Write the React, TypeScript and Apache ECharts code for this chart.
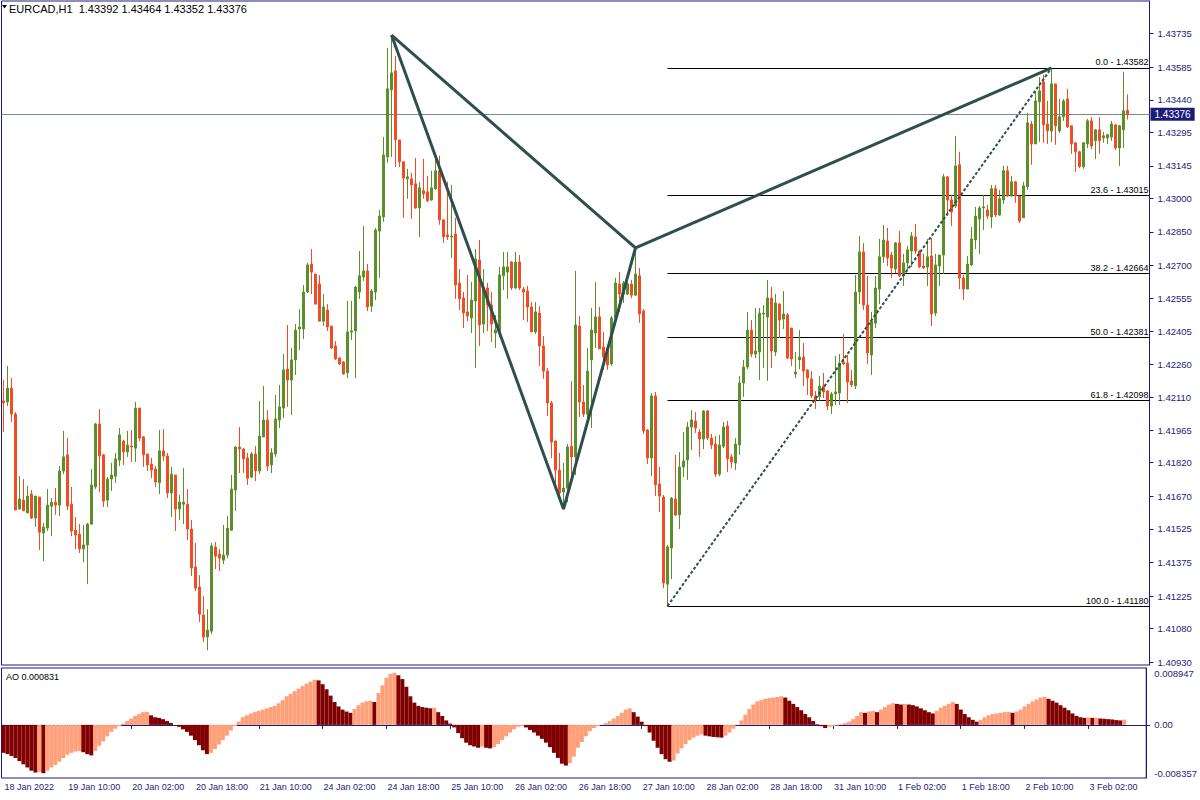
import React, { useEffect, useRef } from "react";
import * as echarts from "echarts";

// ---------------- DATA ----------------
const symbolName = "EURCAD,H1";
const timeLabels = [
  "18 Jan 2022", "19 Jan 10:00", "20 Jan 02:00", "20 Jan 18:00", "21 Jan 10:00",
  "24 Jan 02:00", "24 Jan 18:00", "25 Jan 10:00", "26 Jan 02:00", "26 Jan 18:00",
  "27 Jan 10:00", "28 Jan 02:00", "28 Jan 18:00", "31 Jan 10:00", "1 Feb 02:00",
  "1 Feb 18:00", "2 Feb 10:00", "3 Feb 02:00",
];
const barsPerLabel = 16;
const emptyBarsRight = 5;

const priceTickLabels = [
  "1.43735", "1.43585", "1.43440", "1.43295", "1.43145", "1.43000", "1.42850",
  "1.42700", "1.42555", "1.42405", "1.42260", "1.42110", "1.41965", "1.41820",
  "1.41670", "1.41525", "1.41375", "1.41225", "1.41080", "1.40930",
];

const opens = [
  1.42096,1.42091,1.42153,1.42037,1.41613,1.41653,1.41596,1.41680,1.41573,1.41667,
  1.41506,1.41528,1.41626,1.41644,1.41631,1.41783,1.41855,1.41635,1.41519,1.41501,
  1.41435,1.41453,1.41546,1.41712,1.41993,1.41855,1.41653,1.41747,1.41760,1.41832,
  1.41917,1.41868,1.41894,1.41885,1.42064,1.41935,1.41859,1.41814,1.41792,1.41730,
  1.41873,1.41850,1.41685,1.41765,1.41613,1.41635,1.41635,1.41524,1.41355,1.41265,
  1.41140,1.41042,1.41068,1.41444,1.41412,1.41385,1.41408,1.41519,1.41698,1.41890,
  1.41881,1.41841,1.41756,1.41859,1.41783,1.41935,1.42011,1.41810,1.41859,1.42011,
  1.42064,1.42238,1.42189,1.42279,1.42417,1.42417,1.42582,1.42707,1.42662,1.42618,
  1.42452,1.42502,1.42430,1.42341,1.42287,1.42270,1.42221,1.42403,1.42408,1.42582,
  1.42649,1.42676,1.42519,1.42582,1.42854,1.42917,1.43185,1.43484,1.43569,1.43261,
  1.43163,1.43087,1.43087,1.43065,1.42957,1.43034,1.43029,1.42993,1.43043,1.43123,
  1.42904,1.42837,1.42828,1.42841,1.42622,1.42555,1.42493,1.42466,1.42542,1.42725,
  1.42439,1.42600,1.42524,1.42399,1.42408,1.42654,1.42671,1.42716,1.42600,1.42716,
  1.42595,1.42586,1.42515,1.42404,1.42488,1.42341,1.42229,1.42087,1.41917,1.41787,
  1.41689,1.41707,1.41894,1.41846,1.42430,1.42091,1.42037,1.42279,1.42399,1.42471,
  1.42337,1.42332,1.42261,1.42466,1.42618,1.42573,1.42573,1.42618,1.42568,1.42654,
  1.42497,1.41966,1.41841,1.42118,1.41725,1.41667,1.41278,1.41439,1.41658,1.41587,
  1.41801,1.41832,1.41979,1.42006,1.41957,1.41926,1.42051,1.41930,1.41903,1.41769,
  1.41894,1.41984,1.41846,1.41819,1.41899,1.42176,1.42247,1.42412,1.42305,1.42314,
  1.42484,1.42470,1.42555,1.42314,1.42528,1.42461,1.42480,1.42421,1.42216,1.42279,
  1.42292,1.42234,1.42194,1.42118,1.42114,1.42162,1.42140,1.42073,1.42127,1.42131,
  1.42270,1.42265,1.42185,1.42163,1.42582,1.42761,1.42524,1.42301,1.42443,1.42595,
  1.42739,1.42810,1.42747,1.42685,1.42801,1.42654,1.42712,1.42765,1.42828,1.42765,
  1.42698,1.42694,1.42743,1.42488,1.42698,1.42747,1.43096,1.42993,1.42966,1.43150,
  1.42645,1.42595,1.42703,1.42814,1.42908,1.42957,1.42948,1.42917,1.43043,1.42926,
  1.42993,1.43123,1.43011,1.43074,1.43011,1.42913,1.43052,1.43332,1.43243,1.43431,
  1.43520,1.43332,1.43301,1.43511,1.43301,1.43364,1.43444,1.43324,1.43248,1.43208,
  1.43141,1.43243,1.43346,1.43257,1.43306,1.43270,1.43270,1.43274,1.43328,1.43225,
  1.43306,1.43392,
];
const highs = [
  1.42189,1.42252,1.42198,1.42046,1.41760,1.41747,1.41716,1.41698,1.41671,1.41667,
  1.41551,1.41703,1.41662,1.41707,1.41805,1.41962,1.41930,1.41712,1.41578,1.41546,
  1.41542,1.41551,1.41792,1.41998,1.42060,1.41859,1.41756,1.41819,1.41864,1.41975,
  1.41921,1.41962,1.41966,1.42091,1.42064,1.41939,1.41859,1.41841,1.41805,1.41966,
  1.41970,1.41864,1.41801,1.41765,1.41676,1.41796,1.41703,1.41564,1.41462,1.41318,
  1.41224,1.41166,1.41462,1.41466,1.41435,1.41542,1.41582,1.41765,1.41894,1.41979,
  1.41885,1.41864,1.41868,1.41894,1.42096,1.42162,1.42055,1.41885,1.42123,1.42167,
  1.42305,1.42435,1.42332,1.42439,1.42506,1.42613,1.42712,1.42774,1.42662,1.42658,
  1.42573,1.42528,1.42430,1.42363,1.42292,1.42274,1.42542,1.42542,1.42609,1.42765,
  1.42877,1.42707,1.42595,1.42868,1.42948,1.43274,1.43672,1.43729,1.43636,1.43261,
  1.43163,1.43132,1.43114,1.43181,1.43074,1.43176,1.43100,1.43123,1.43190,1.43190,
  1.42904,1.43074,1.43060,1.42913,1.42685,1.42582,1.42658,1.42627,1.42774,1.42814,
  1.42685,1.42622,1.42582,1.42479,1.42694,1.42761,1.42761,1.42721,1.42761,1.42747,
  1.42604,1.42609,1.42537,1.42537,1.42519,1.42385,1.42243,1.42096,1.41917,1.41864,
  1.41819,1.41903,1.42185,1.42676,1.42475,1.42167,1.42332,1.42511,1.42627,1.42515,
  1.42404,1.42346,1.42475,1.42645,1.42671,1.42631,1.42627,1.42636,1.42779,1.42689,
  1.42506,1.41970,1.42131,1.42136,1.41801,1.41676,1.41453,1.41667,1.41855,1.41868,
  1.41957,1.42002,1.42055,1.42046,1.41970,1.42055,1.42055,1.41948,1.41939,1.41944,
  1.42002,1.42006,1.41859,1.41930,1.42207,1.42279,1.42493,1.42457,1.42510,1.42510,
  1.42524,1.42636,1.42604,1.42573,1.42533,1.42586,1.42488,1.42421,1.42314,1.42412,
  1.42354,1.42238,1.42229,1.42140,1.42207,1.42221,1.42145,1.42136,1.42296,1.42305,
  1.42395,1.42301,1.42234,1.42658,1.42832,1.42801,1.42654,1.42493,1.42654,1.42819,
  1.42881,1.42868,1.42761,1.42805,1.42854,1.42752,1.42788,1.42850,1.42886,1.42770,
  1.42752,1.42819,1.42823,1.42752,1.42747,1.43109,1.43100,1.43016,1.43279,1.43208,
  1.42658,1.42743,1.42872,1.42962,1.42966,1.43016,1.42971,1.43060,1.43060,1.43038,
  1.43145,1.43145,1.43100,1.43078,1.43011,1.43074,1.43382,1.43346,1.43480,1.43542,
  1.43551,1.43435,1.43582,1.43511,1.43444,1.43444,1.43489,1.43324,1.43252,1.43212,
  1.43252,1.43355,1.43364,1.43306,1.43364,1.43297,1.43288,1.43346,1.43332,1.43328,
  1.43565,1.43464,
];
const lows = [
  1.41957,1.42073,1.42002,1.41609,1.41613,1.41605,1.41596,1.41569,1.41533,1.41430,
  1.41381,1.41515,1.41492,1.41587,1.41582,1.41769,1.41609,1.41492,1.41435,1.41417,
  1.41376,1.41278,1.41542,1.41703,1.41689,1.41622,1.41622,1.41694,1.41730,1.41805,
  1.41810,1.41846,1.41823,1.41823,1.41917,1.41801,1.41783,1.41751,1.41712,1.41680,
  1.41828,1.41662,1.41578,1.41515,1.41564,1.41546,1.41475,1.41314,1.41247,1.41108,
  1.41019,1.40983,1.41055,1.41345,1.41336,1.41367,1.41394,1.41515,1.41605,1.41774,
  1.41774,1.41721,1.41751,1.41738,1.41769,1.41935,1.41783,1.41774,1.41846,1.41975,
  1.42020,1.42069,1.42033,1.42212,1.42323,1.42372,1.42577,1.42573,1.42528,1.42452,
  1.42430,1.42408,1.42328,1.42279,1.42256,1.42212,1.42198,1.42368,1.42198,1.42551,
  1.42631,1.42497,1.42493,1.42546,1.42645,1.42895,1.43159,1.43185,1.43140,1.43140,
  1.42913,1.42998,1.42908,1.42953,1.42828,1.42998,1.42984,1.42989,1.43038,1.42882,
  1.42801,1.42814,1.42734,1.42551,1.42502,1.42421,1.42452,1.42399,1.42243,1.42341,
  1.42399,1.42408,1.42359,1.42332,1.42381,1.42591,1.42551,1.42591,1.42595,1.42591,
  1.42457,1.42448,1.42404,1.42395,1.42252,1.42194,1.42029,1.41841,1.41712,1.41676,
  1.41613,1.41644,1.41756,1.41765,1.42024,1.42024,1.41998,1.41975,1.42332,1.42328,
  1.42234,1.42234,1.42252,1.42457,1.42493,1.42533,1.42568,1.42555,1.42564,1.42444,
  1.41948,1.41814,1.41760,1.41671,1.41600,1.41260,1.41180,1.41300,1.41582,1.41524,
  1.41756,1.41743,1.41877,1.41953,1.41846,1.41881,1.41921,1.41881,1.41756,1.41760,
  1.41885,1.41778,1.41796,1.41787,1.41855,1.42114,1.42238,1.42292,1.42287,1.42189,
  1.42243,1.42185,1.42243,1.42296,1.42377,1.42417,1.42283,1.42252,1.42198,1.42238,
  1.42162,1.42123,1.42109,1.42060,1.42096,1.42109,1.42055,1.42037,1.42078,1.42078,
  1.42256,1.42087,1.42158,1.42149,1.42528,1.42502,1.42261,1.42212,1.42421,1.42528,
  1.42712,1.42698,1.42645,1.42667,1.42649,1.42609,1.42680,1.42694,1.42752,1.42689,
  1.42685,1.42609,1.42430,1.42475,1.42609,1.42662,1.42922,1.42877,1.42957,1.42595,
  1.42546,1.42595,1.42698,1.42774,1.42752,1.42859,1.42908,1.42868,1.42917,1.42922,
  1.42975,1.43007,1.43007,1.42980,1.42890,1.42913,1.43038,1.43150,1.43243,1.43252,
  1.43248,1.43243,1.43252,1.43239,1.43292,1.43346,1.43315,1.43199,1.43118,1.43136,
  1.43132,1.43225,1.43221,1.43176,1.43199,1.43248,1.43243,1.43257,1.43216,1.43145,
  1.43225,1.43352,
];
const closes = [
  1.42087,1.42153,1.42037,1.41609,1.41658,1.41605,1.41671,1.41573,1.41671,1.41510,
  1.41533,1.41631,1.41644,1.41631,1.41783,1.41846,1.41626,1.41515,1.41497,1.41435,
  1.41453,1.41546,1.41721,1.41993,1.41850,1.41649,1.41747,1.41765,1.41837,1.41944,
  1.41868,1.41899,1.41890,1.42064,1.41930,1.41855,1.41810,1.41787,1.41734,1.41873,
  1.41850,1.41685,1.41769,1.41613,1.41644,1.41644,1.41524,1.41350,1.41260,1.41144,
  1.41042,1.41073,1.41448,1.41403,1.41394,1.41408,1.41528,1.41703,1.41890,1.41881,
  1.41837,1.41751,1.41859,1.41783,1.41939,1.42011,1.41805,1.41864,1.42015,1.42069,
  1.42234,1.42189,1.42279,1.42412,1.42426,1.42582,1.42703,1.42671,1.42528,1.42452,
  1.42515,1.42426,1.42332,1.42283,1.42261,1.42216,1.42403,1.42408,1.42604,1.42654,
  1.42676,1.42515,1.42586,1.42859,1.42921,1.43194,1.43489,1.43560,1.43261,1.43163,
  1.43091,1.43096,1.43060,1.42957,1.43047,1.43020,1.42989,1.43047,1.43123,1.42904,
  1.42828,1.42828,1.42832,1.42613,1.42551,1.42488,1.42475,1.42546,1.42729,1.42435,
  1.42604,1.42524,1.42439,1.42412,1.42658,1.42694,1.42694,1.42600,1.42716,1.42600,
  1.42582,1.42515,1.42404,1.42493,1.42341,1.42229,1.42087,1.41912,1.41787,1.41685,
  1.41707,1.41890,1.41846,1.42435,1.42091,1.42037,1.42229,1.42412,1.42471,1.42328,
  1.42292,1.42256,1.42466,1.42622,1.42573,1.42622,1.42618,1.42568,1.42662,1.42484,
  1.41962,1.41841,1.42118,1.41721,1.41671,1.41283,1.41444,1.41662,1.41587,1.41801,
  1.41828,1.41979,1.42011,1.41975,1.41926,1.42051,1.41930,1.41899,1.41769,1.41899,
  1.41979,1.41837,1.41823,1.41903,1.42176,1.42247,1.42412,1.42305,1.42319,1.42488,
  1.42488,1.42555,1.42319,1.42533,1.42457,1.42484,1.42287,1.42283,1.42225,1.42292,
  1.42229,1.42198,1.42118,1.42100,1.42162,1.42136,1.42073,1.42127,1.42136,1.42265,
  1.42261,1.42180,1.42167,1.42582,1.42761,1.42524,1.42310,1.42452,1.42600,1.42739,
  1.42814,1.42734,1.42689,1.42801,1.42654,1.42712,1.42770,1.42832,1.42765,1.42694,
  1.42689,1.42739,1.42484,1.42703,1.42747,1.43096,1.42993,1.42939,1.43145,1.42645,
  1.42595,1.42707,1.42819,1.42921,1.42957,1.42962,1.42921,1.43043,1.42926,1.42998,
  1.43123,1.43011,1.43074,1.43011,1.42899,1.43056,1.43337,1.43243,1.43435,1.43480,
  1.43328,1.43301,1.43511,1.43324,1.43364,1.43435,1.43319,1.43243,1.43208,1.43141,
  1.43248,1.43346,1.43234,1.43306,1.43257,1.43279,1.43284,1.43332,1.43225,1.43324,
  1.43391,1.43376,
];

const aoValues = [
  -0.0044,-0.0046,-0.0049,-0.0052,-0.0057,-0.0062,-0.0067,-0.0072,-0.0075,-0.0074,
  -0.0076,-0.0072,-0.0067,-0.0063,-0.0058,-0.0052,-0.0047,-0.0044,-0.0042,-0.0041,
  -0.0043,-0.0046,-0.0048,-0.0041,-0.0033,-0.0026,-0.0018,-0.0011,-0.0006,-0.0002,
  0.0002,0.0006,0.0010,0.0014,0.0017,0.0020,0.00205,0.0015,0.0012,0.0011,
  0.0009,0.0006,0.0003,0.0000,-0.0003,-0.0007,-0.0011,-0.0017,-0.0024,-0.0032,
  -0.0040,-0.0046,-0.0044,-0.0038,-0.0031,-0.0024,-0.0017,-0.0009,-0.0002,0.0005,
  0.0012,0.0015,0.0018,0.0020,0.0022,0.0024,0.0026,0.0028,0.0030,0.0034,
  0.0039,0.0045,0.0049,0.0053,0.0057,0.0061,0.0065,0.0068,0.0071,0.0070,
  0.0064,0.0056,0.0046,0.0036,0.0029,0.0024,0.0021,0.0019,0.0025,0.0031,
  0.0035,0.0037,0.0038,0.0036,0.0050,0.0062,0.0074,0.0080,0.0082,0.0078,
  0.0072,0.0060,0.0045,0.0035,0.0030,0.0028,0.0027,0.0026,0.0027,0.0020,
  0.0014,0.0007,0.0002,-0.0004,-0.0013,-0.0021,-0.0028,-0.0032,-0.0034,-0.0036,
  -0.0034,-0.0036,-0.0037,-0.0035,-0.0030,-0.0024,-0.0018,-0.0012,-0.0007,-0.0003,
  -0.0002,-0.0004,-0.0008,-0.0012,-0.0017,-0.0022,-0.0028,-0.0035,-0.0044,-0.0052,
  -0.0061,-0.0064,-0.0060,-0.0050,-0.0036,-0.0027,-0.0018,-0.0010,-0.0005,-0.0002,
  0.00005,0.0003,0.0006,0.0010,0.0014,0.0019,0.0024,0.0026,0.0020,0.0013,
  0.0005,-0.0002,-0.0012,-0.0025,-0.0036,-0.0046,-0.0054,-0.0058,-0.0056,-0.0045,
  -0.0037,-0.0030,-0.0024,-0.0020,-0.0017,-0.0015,-0.0017,-0.0018,-0.0019,-0.00195,
  -0.0020,-0.0017,-0.0012,-0.0006,0.00005,0.0007,0.0016,0.0025,0.0032,0.0037,
  0.0039,0.0041,0.0042,0.0043,0.0044,0.0045,0.0043,0.0038,0.0033,0.0028,
  0.0023,0.0017,0.0012,0.0006,0.0001,-0.0002,-0.0005,-0.0003,-0.0002,-0.0001,
  0.0001,0.0003,0.0005,0.0009,0.0014,0.0020,0.0019,0.0021,0.0022,0.0020,
  0.0024,0.0028,0.0032,0.0034,0.0033,0.0032,0.0033,0.0032,0.0031,0.0029,
  0.0026,0.0023,0.0020,0.0018,0.0022,0.0027,0.0030,0.0033,0.0036,0.0033,
  0.0024,0.0017,0.0012,0.0008,0.0005,0.0008,0.0012,0.0015,0.0017,0.0018,
  0.0019,0.0020,0.00205,0.0019,0.0021,0.0024,0.0029,0.0033,0.0037,0.0040,
  0.0043,0.0044,0.0041,0.0038,0.0035,0.0031,0.0027,0.0023,0.0018,0.0014,
  0.0012,0.0011,0.00115,0.0011,0.00112,0.0010,0.00095,0.0009,0.00085,0.00075,
  0.0007,0.000831,
];
const aoTickValues = [-0.008357, 0, 0.008947];

const fibLevels = [0, 23.6, 38.2, 50, 61.8, 100];
const fibPrices = [1.43582, 1.43015, 1.42664, 1.42381, 1.42098, 1.4118];
const fibStartBar = 166;
const fibEndBar = 262;

const patternBars = [97, 140, 158, 262];
const patternPrices = [1.43729, 1.41613, 1.42779, 1.43582];

// ---------------- STYLE ----------------
const FONT = "'Liberation Sans', Arial, sans-serif";
const NAVY = "#1c1c78";
const BULL = "#5b8f2a";
const BEAR = "#f14c23";
const SLATE = "#2f4f4f";
const AO_UP = "#ffa07a";
const AO_DOWN = "#800000";
const Y_MIN = 1.40917;
const Y_MAX = 1.43881;

export default function App() {
  const ref = useRef<HTMLDivElement>(null);

  useEffect(() => {
    if (!ref.current) return;
    const chart = echarts.init(ref.current, null, { renderer: "svg" });

    const nBars = opens.length;
    const cats = Array.from({ length: nBars + emptyBarsRight }, (_, i) =>
      i % barsPerLabel === 0 && i / barsPerLabel < timeLabels.length
        ? timeLabels[i / barsPerLabel]
        : "b" + i
    );
    const showLabel = (idx: number) =>
      idx % barsPerLabel === 0 && idx / barsPerLabel < timeLabels.length;

    const candles = opens.map((o, i) => [o, closes[i], lows[i], highs[i]]);
    const priceTickVals = priceTickLabels.map(Number);
    const last = nBars - 1;
    const titleText = `${symbolName}  ${opens[last].toFixed(5)} ${highs[last].toFixed(5)} ${lows[last].toFixed(5)} ${closes[last].toFixed(5)}`;
    const currentPrice = closes[last];

    const aoData = aoValues.map((v, i) => ({
      value: v,
      itemStyle: { color: i > 0 && v > aoValues[i - 1] ? AO_UP : AO_DOWN },
    }));

    const fibMarks: any[] = fibLevels.map((lv, k) => [
      {
        xAxis: fibStartBar,
        yAxis: fibPrices[k],
        name: `${lv.toFixed(1)} - ${fibPrices[k].toFixed(5)}`,
        lineStyle: { color: "#000", width: 1, type: "solid" },
        label: {
          show: true,
          position: "insideEndTop",
          formatter: "{b}",
          color: "#000",
          fontSize: 9,
          fontFamily: FONT,
          distance: [1, 1],
        },
      },
      { x: 1149.5, yAxis: fibPrices[k] },
    ]);
    fibMarks.push({
      yAxis: currentPrice,
      lineStyle: { color: "#778899", width: 1, type: "solid" },
      label: {
        show: true,
        position: "end",
        formatter: currentPrice.toFixed(5),
        color: "#fff",
        backgroundColor: NAVY,
        padding: [2, 4, 1, 4],
        fontSize: 10,
        fontFamily: FONT,
        distance: 1,
      },
    });

    const option: any = {
      animation: false,
      backgroundColor: "#ffffff",
      textStyle: { fontFamily: FONT },
      grid: [
        { left: 1.5, top: 1, width: 1148, height: 664, show: true, borderColor: NAVY, borderWidth: 1 },
        { left: 1.5, top: 668, width: 1148, height: 110, show: true, borderColor: NAVY, borderWidth: 1 },
      ],
      xAxis: [
        {
          type: "category", gridIndex: 0, data: cats, boundaryGap: true,
          axisLine: { show: false }, axisTick: { show: false }, axisLabel: { show: false },
          splitLine: { show: false },
        },
        {
          type: "category", gridIndex: 1, data: cats, boundaryGap: true, position: "bottom",
          axisLine: { show: true, lineStyle: { color: NAVY, width: 1 } },
          axisTick: { show: true, alignWithLabel: true, interval: showLabel, length: 4, lineStyle: { color: NAVY } },
          axisLabel: {
            show: true, interval: showLabel,
            formatter: (v: string) => (v.startsWith("b") ? "" : v),
            align: "left", color: NAVY, fontSize: 9, fontFamily: FONT, margin: 4,
            padding: [0, 0, 0, 1],
          },
          splitLine: { show: false },
        },
      ],
      yAxis: [
        {
          type: "value", gridIndex: 0, position: "right", min: Y_MIN, max: Y_MAX,
          axisLine: { show: true, lineStyle: { color: NAVY } },
          axisTick: { show: true, length: 4, customValues: priceTickVals, lineStyle: { color: NAVY } },
          axisLabel: {
            show: true, customValues: priceTickVals,
            formatter: (v: number) => v.toFixed(5),
            color: NAVY, fontSize: 9.5, fontFamily: FONT, margin: 8,
          },
          splitLine: { show: false },
        },
        {
          type: "value", gridIndex: 1, position: "right",
          min: aoTickValues[0], max: aoTickValues[2],
          axisLine: { show: true, lineStyle: { color: NAVY } },
          axisTick: { show: true, length: 4, customValues: [0], lineStyle: { color: NAVY } },
          axisLabel: {
            show: true, customValues: aoTickValues,
            formatter: (v: number) => (v === 0 ? "0.00" : v.toFixed(6)),
            verticalAlignMinLabel: "bottom", verticalAlignMaxLabel: "top",
            color: NAVY, fontSize: 9.5, fontFamily: FONT, margin: 8,
          },
          splitLine: { show: false },
        },
      ],
      series: [
        {
          type: "candlestick", xAxisIndex: 0, yAxisIndex: 0, data: candles,
          barWidth: 2, z: 3, silent: true,
          itemStyle: { color: BULL, color0: BEAR, borderColor: BULL, borderColor0: BEAR, borderWidth: 1 },
        },
        {
          type: "line", xAxisIndex: 0, yAxisIndex: 0, symbol: "none", silent: true, z: 4,
          data: [[fibStartBar, fibPrices[5]], [fibEndBar, fibPrices[0]]],
          lineStyle: { color: SLATE, width: 2, type: [3, 2] },
          markLine: { silent: true, symbol: ["none", "none"], z: 1, precision: 5, data: fibMarks, animation: false },
        },
        {
          type: "line", xAxisIndex: 0, yAxisIndex: 0, symbol: "none", silent: true, z: 5,
          data: patternBars.map((b, k) => [b, patternPrices[k]]),
          lineStyle: { color: SLATE, width: 3 },
        },
        {
          type: "line", xAxisIndex: 0, yAxisIndex: 0, symbol: "none", silent: true, z: 5,
          data: [[patternBars[0], patternPrices[0]], [patternBars[2], patternPrices[2]]],
          lineStyle: { color: SLATE, width: 3 },
        },
        {
          type: "bar", xAxisIndex: 1, yAxisIndex: 1, data: aoData, silent: true,
          barWidth: 4, barGap: "0%", barCategoryGap: "0%",
        },
      ],
      graphic: [
        { type: "polygon", shape: { points: [[2, 5], [7, 5], [4.5, 8.5]] }, style: { fill: "#000" } },
        { type: "text", left: 9, top: 3, style: { text: titleText, fontSize: 11, fontFamily: FONT, fill: "#000" } },
        {
          type: "text", left: 6, top: 672,
          style: { text: `AO ${aoValues[last].toFixed(6)}`, fontSize: 9, fontFamily: FONT, fill: "#000" },
        },
      ],
    };

    chart.setOption(option);
    return () => chart.dispose();
  }, []);

  return (
    <div
      ref={ref}
      style={{ position: "fixed", left: 0, top: 0, width: 1200, height: 800, background: "#fff" }}
    />
  );
}
